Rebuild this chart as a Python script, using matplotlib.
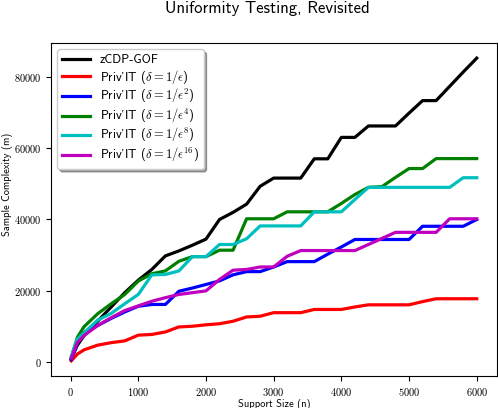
import numpy as np
import matplotlib
matplotlib.use("Agg")
import matplotlib.pyplot as plt

plt.rcParams['font.family'] = ['cmss10', 'DejaVu Sans']
plt.rcParams['mathtext.fontset'] = 'cm'
plt.rcParams['axes.unicode_minus'] = False
plt.rcParams['axes.formatter.use_mathtext'] = True

# support sizes
n_vals = [10, 100, 200] + list(range(400, 6001, 200))

zcdp = [1000, 4800, 7500, 11500, 15500, 19500, 23000, 26000, 29800, 31200, 32800,
        34500, 40000, 42000, 44300, 49300, 51600, 51600, 51600, 57000, 57000,
        63000, 63000, 66200, 66200, 66200, 69800, 73300, 73300, 77300, 81300, 85200]
priv_1 = [400, 2300, 3500, 4800, 5500, 6000, 7600, 7800, 8500, 9900, 10100,
          10500, 10800, 11500, 12700, 12900, 13900, 13900, 13900, 14800, 14800,
          14800, 15500, 16100, 16100, 16100, 16100, 17000, 17800, 17800, 17800, 17800]
priv_2 = [800, 5500, 8300, 10300, 12300, 14100, 15700, 16200, 16200, 19900, 20800,
          21800, 22800, 24500, 25400, 25400, 26700, 28200, 28200, 28200, 30300,
          32300, 34400, 34400, 34400, 34400, 34400, 38100, 38100, 38100, 38100, 40000]
priv_4 = [1300, 7000, 10000, 13600, 16400, 19000, 22750, 24800, 25600, 28300, 29600,
          29600, 31400, 31400, 40200, 40200, 40200, 42150, 42150, 42150, 42150,
          44500, 47000, 49000, 49200, 51800, 54270, 54270, 57060, 57060, 57060, 57060]
priv_8 = [1700, 6500, 8300, 11800, 13700, 16400, 19000, 24500, 24600, 25600, 29600,
          29600, 33000, 33000, 34600, 38200, 38200, 38200, 38200, 42150, 42150,
          42150, 45600, 49000, 49000, 49000, 49000, 49000, 49000, 49000, 51700, 51700]
priv_16 = [1200, 5500, 7500, 10300, 12500, 14500, 15800, 17100, 18100, 19000, 19500,
           20000, 23200, 25800, 26000, 26700, 26700, 29700, 31300, 31300, 31300,
           31300, 31300, 33000, 34700, 36400, 36400, 36400, 36400, 40200, 40200, 40200]

labels = ['zCDP-GOF',
          r"Priv'IT ($\delta = 1/\epsilon$)",
          r"Priv'IT ($\delta = 1/\epsilon^2$)",
          r"Priv'IT ($\delta = 1/\epsilon^4$)",
          r"Priv'IT ($\delta = 1/\epsilon^8$)",
          r"Priv'IT ($\delta = 1/\epsilon^{16}$)"]
colors = ['k', 'r', 'b', 'g', 'c', 'm']
series = [zcdp, priv_1, priv_2, priv_4, priv_8, priv_16]

fig = plt.figure(figsize=(4.98, 4.08), dpi=100)
ax = fig.add_axes([51/498, 1 - 376/408, 446/498, 333/408])

for ys, c, lab in zip(series, colors, labels):
    ax.plot(n_vals, ys, color=c, linewidth=2.3, label=lab)

ax.set_xticks([0, 1000, 2000, 3000, 4000, 5000, 6000])
ax.set_yticks([0, 20000, 40000, 60000, 80000])
for t in ax.get_xticklabels() + ax.get_yticklabels():
    t.set_family('cmr10')
    t.set_fontsize(7.5)

ax.set_xlabel('Support Size (n)', fontsize=7.5, va='center')
ax.xaxis.set_label_coords(0.5, (376 - 404) / 333)
ax.set_ylabel('Sample Complexity (m)', fontsize=7.5, va='center')
ax.yaxis.set_label_coords((8 - 51) / 446, 0.575)
fig.text(267/498, 1 - 9/408, 'Uniformity Testing, Revisited', fontsize=12,
         ha='center', va='center')

ax.legend(loc='upper left', shadow=True, fontsize=9, labelspacing=0.12,
          handlelength=2.2)

plt.savefig('out.png', dpi=100)
